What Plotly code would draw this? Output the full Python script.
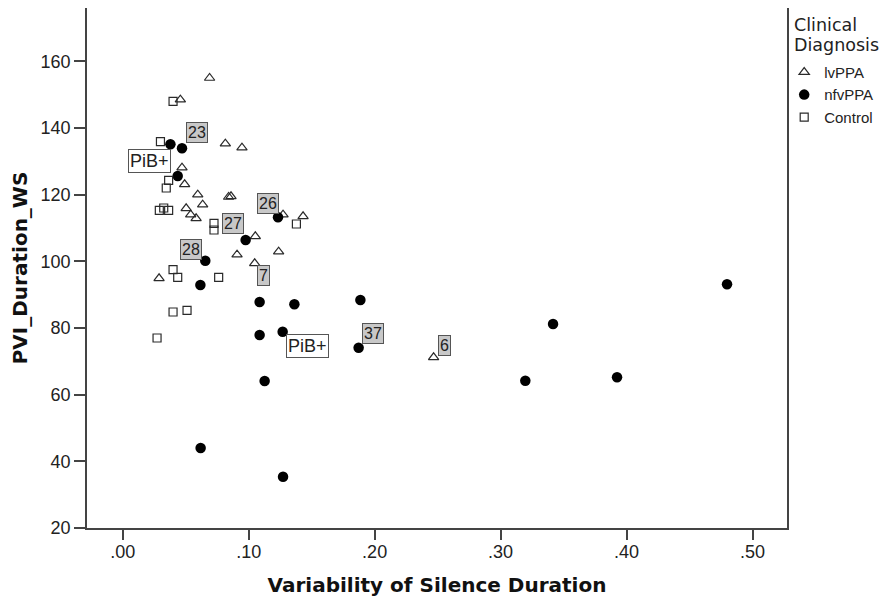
import plotly.graph_objects as go

# ---- data ----
lv_x = [0.069, 0.0458, 0.0815, 0.0947, 0.0471, 0.0492, 0.0596, 0.0841, 0.0860, 0.0635,
        0.0504, 0.0540, 0.0583, 0.1273, 0.1432, 0.1053, 0.0908, 0.1238, 0.1048, 0.0289, 0.2468]
lv_y = [155.0, 148.5, 135.3, 134.1, 128.1, 123.1, 120.0, 119.3, 119.5, 117.0,
        115.9, 114.0, 112.9, 114.0, 113.5, 107.5, 102.0, 102.9, 99.4, 94.9, 71.2]

nfv_x = [0.0379, 0.0471, 0.0437, 0.1233, 0.0976, 0.0656, 0.0617, 0.1087, 0.1363, 0.1887,
         0.1087, 0.1270, 0.1873, 0.1127, 0.0619, 0.1273, 0.4797, 0.3416, 0.3196, 0.3924]
nfv_y = [135.1, 133.9, 125.6, 113.2, 106.4, 100.2, 92.9, 87.8, 87.1, 88.4,
         77.9, 78.9, 74.1, 64.1, 44.0, 35.4, 93.1, 81.2, 64.2, 65.2]

ctrl_x = [0.040, 0.030, 0.0365, 0.0346, 0.0291, 0.0326, 0.0365, 0.1379, 0.0725, 0.0725,
          0.040, 0.0437, 0.0762, 0.040, 0.0511, 0.0273]
ctrl_y = [148.0, 135.9, 124.3, 122.0, 115.3, 116.0, 115.3, 111.2, 111.4, 109.4,
          97.5, 95.2, 95.2, 84.8, 85.3, 77.0]

series_names = ["lvPPA", "nfvPPA", "Control"]

x_tick_vals = [0.0, 0.1, 0.2, 0.3, 0.4, 0.5]
x_tick_text = [".00", ".10", ".20", ".30", ".40", ".50"]
y_tick_vals = [20, 40, 60, 80, 100, 120, 140, 160]

# point labels: text, series, point index
label_text = ["23", "PiB+", "26", "27", "28", "7", "PiB+", "37", "6"]
label_series = ["nfvPPA", "nfvPPA", "nfvPPA", "nfvPPA", "nfvPPA", "lvPPA", "nfvPPA", "nfvPPA", "lvPPA"]
label_index = [1, 2, 3, 4, 5, 18, 11, 12, 20]

# ---- styling ----
label_dx = [15.1, -27.9, -10.2, -12.8, -14.5, 8.7, 24.4, 14.6, 10.4]
label_dy = [15.6, 14.6, 14.1, 16.7, 11.1, -12.2, -13.9, 14.6, 11.5]

EDGE = "#2a2a2a"
AXIS = "#444444"
SANS = "Liberation Sans, Arial, sans-serif"

series_data = {
    "lvPPA": (lv_x, lv_y),
    "nfvPPA": (nfv_x, nfv_y),
    "Control": (ctrl_x, ctrl_y),
}
series_style = {
    "lvPPA": dict(symbol="triangle-up-open", size=9, color=EDGE, line=dict(color=EDGE, width=1.2)),
    "nfvPPA": dict(symbol="circle", size=10.5, color="#000000", line=dict(color="#000000", width=0)),
    "Control": dict(symbol="square-open", size=8, color=EDGE, line=dict(color=EDGE, width=1.2)),
}

fig = go.Figure()
for name in series_names:
    xs, ys = series_data[name]
    fig.add_trace(go.Scatter(x=xs, y=ys, mode="markers", name=name,
                             marker=series_style[name], cliponaxis=False))

annotations = []
for t, s, i, dx, dy in zip(label_text, label_series, label_index, label_dx, label_dy):
    xs, ys = series_data[s]
    is_pib = t.startswith("PiB")
    annotations.append(dict(
        x=xs[i], y=ys[i], xref="x", yref="y", text=t, showarrow=False,
        xanchor="center", yanchor="middle", xshift=dx, yshift=dy,
        font=dict(family=SANS, size=18 if is_pib else 16, color="#222"),
        bgcolor="#ffffff" if is_pib else "#c8c8c8",
        bordercolor="#555555", borderwidth=1, borderpad=1,
    ))

# legend title (two lines)
annotations.append(dict(x=1.0065, y=0.967, xref="paper", yref="paper", text="Clinical",
                        showarrow=False, xanchor="left", yanchor="middle",
                        font=dict(family="DejaVu Sans", size=17.5, color="#222")))
annotations.append(dict(x=1.0065, y=0.929, xref="paper", yref="paper", text="Diagnosis",
                        showarrow=False, xanchor="left", yanchor="middle",
                        font=dict(family="DejaVu Sans", size=17.5, color="#222")))

# page body has an 8px margin: the figure is sized to fill the 887x599 window from (8,8)
fig.update_layout(
    width=879, height=591,
    margin=dict(l=79, r=100, t=0, b=71, autoexpand=False),
    paper_bgcolor="white", plot_bgcolor="white",
    showlegend=True,
    legend=dict(x=0.996, y=0.908, xanchor="left", yanchor="top",
                font=dict(family=SANS, size=15, color="#222"),
                bgcolor="rgba(0,0,0,0)", itemwidth=30, tracegroupgap=0),
    annotations=annotations,
)

fig.update_xaxes(
    range=[-0.0283, 0.5273], tickvals=x_tick_vals, ticktext=x_tick_text,
    showgrid=False, zeroline=False, showline=True, mirror=True,
    linecolor=AXIS, linewidth=1.5, ticks="outside", ticklen=10, tickwidth=1.5, tickcolor=AXIS,
    tickfont=dict(family=SANS, size=18, color="#222"), ticklabelstandoff=-3,
    title=dict(text="<b>Variability of Silence Duration</b>", standoff=17,
               font=dict(family="DejaVu Sans", size=20, color="#111")),
)
fig.update_yaxes(
    range=[20, 176], tickvals=y_tick_vals,
    showgrid=False, zeroline=False, showline=True, mirror=True,
    linecolor=AXIS, linewidth=1.5, ticks="outside", ticklen=11, tickwidth=1.5, tickcolor=AXIS,
    tickfont=dict(family=SANS, size=18, color="#222"),
    title=dict(text="<b>PVI_Duration_WS</b>", standoff=8,
               font=dict(family="DejaVu Sans", size=20, color="#111")),
)

fig.write_html("out.html")
